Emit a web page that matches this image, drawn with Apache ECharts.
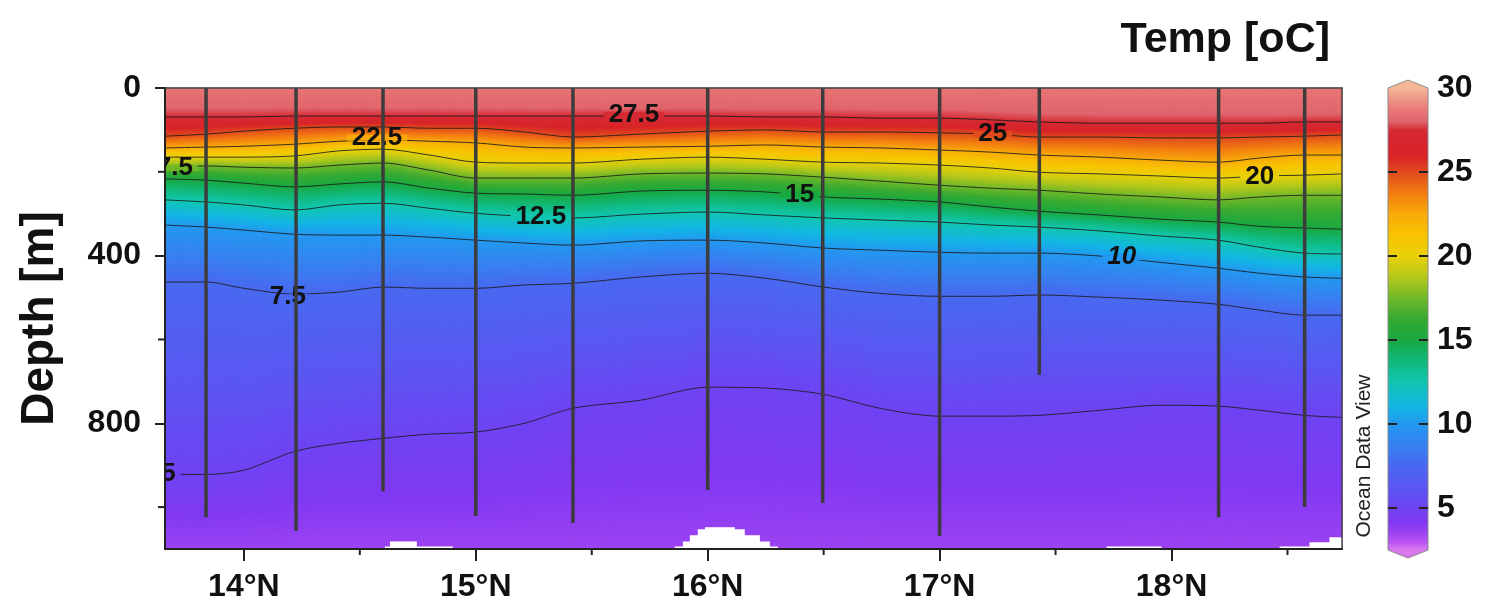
<!DOCTYPE html>
<html><head><meta charset="utf-8">
<script src="https://cdn.jsdelivr.net/npm/echarts@6/dist/echarts.min.js"></script>
<style>html,body{margin:0;padding:0;background:#fff}#c{width:1485px;height:610px}</style>
</head><body><div id="c"></div>
<script>
// ---------------- data ----------------
const latitudes = [13.66, 13.84, 14.0, 14.22, 14.41, 14.6, 14.8, 15.0, 15.21, 15.42, 15.71, 16.0, 16.25, 16.5, 16.74, 17.0, 17.22, 17.43, 17.69, 17.95, 18.2, 18.38, 18.57, 18.735];
const surfaceDepth = latitudes.map(() => 0);
const bottomDepth = latitudes.map(() => 1100);
const surfaceTemp = 28.6;
const bottomTemp = 3.5;
// isotherm depths [m] at each latitude
const iso28   = [48,48,48,48,48,48,48,48,48,48,48,48,50,50,50,50,55,60,62,62,62,62,62,62];
const iso27_5 = [69,69,69,67,67,67,67,67,67,67,67,67,69,69,72,72,76,81,84,84,84,84,81,81];
const iso25   = [115,110,103,96,93,93,96,96,105,117,110,103,100,105,105,107,110,117,117,119,119,117,115,112];
const iso22_5 = [143,141,139,134,127,124,127,131,141,143,141,139,136,141,143,148,153,160,165,172,177,167,160,160];
const iso20   = [165,165,165,162,150,146,160,177,179,179,170,165,170,177,179,184,191,201,205,210,215,210,208,205];
const iso17_5 = [189,186,189,191,184,179,196,215,215,215,205,203,205,213,222,232,239,244,253,260,267,260,256,256];
const iso15   = [217,220,227,236,229,224,239,251,253,256,246,244,248,260,265,272,284,294,303,313,320,330,334,337];
const iso12_5 = [267,272,279,291,279,275,287,299,306,310,301,296,303,310,315,320,327,332,341,353,363,380,394,396];
const iso10   = [327,332,339,349,351,351,356,363,370,375,365,363,370,382,387,392,394,394,401,416,430,442,451,454];
const iso7_5  = [463,463,478,492,487,475,478,478,470,466,451,442,454,475,490,497,497,494,499,506,516,530,542,542];
const iso5    = [922,922,912,867,848,836,826,821,800,764,745,714,716,731,764,783,783,781,769,757,759,769,781,786];

const contourLevels = [27.5, 25, 22.5, 20, 17.5, 15, 12.5, 10, 7.5, 5];
const contourDepths = [iso27_5, iso25, iso22_5, iso20, iso17_5, iso15, iso12_5, iso10, iso7_5, iso5];

// contour labels: [lat, depth, level, text, italic]
const contourLabels = [
  [15.682, 64, 27.5, '27.5', false],
  [17.229, 110, 25, '25', false],
  [14.574, 119, 22.5, '22.5', false],
  [18.38, 212, 20, '20', false],
  [13.671, 191, 17.5, '17.5', false],
  [16.397, 256, 15, '15', false],
  [15.281, 308, 12.5, '12.5', false],
  [17.785, 404, 10, '10', true],
  [14.19, 499, 7.5, '7.5', false],
  [13.675, 920, 5, '5', false]
];

// CTD stations: latitude and cast depth [m]
const stationLat   = [13.837, 14.225, 14.60, 15.0, 15.419, 16.0, 16.496, 17.0, 17.43, 18.203, 18.574];
const stationDepth = [1024, 1057, 962, 1021, 1038, 959, 990, 1069, 685, 1024, 1000];

// no-data gaps at the bottom: [lat0, lat1, top depth]
const bottomGaps = [
  [14.608, 14.901, 1094], [14.63, 14.746, 1082],
  [15.858, 16.302, 1094], [15.893, 16.268, 1082], [15.923, 16.225, 1067], [15.957, 16.16, 1053], [15.988, 16.117, 1048],
  [17.72, 17.957, 1094],
  [18.466, 18.735, 1094], [18.595, 18.735, 1084], [18.681, 18.735, 1072]
];

const xTickValues = [14, 15, 16, 17, 18];
const xMinorTicks = [14.5, 15.5, 16.5, 17.5, 18.5];
const yTickValues = [0, 400, 800];
const yMinorTicks = [200, 600, 1000];
const colorbarTicks = [5, 10, 15, 20, 25];
const colorbarLabels = [5, 10, 15, 20, 25, 30];

// colour scale (temperature -> colour)
const cmV = [2.5, 3.0, 3.5, 4.2, 5.0, 6.2, 7.5, 8.7, 10.0, 11.0, 12.5, 13.8, 15.0, 16.3, 17.5, 18.8, 20.0, 21.2, 22.5, 23.8, 25.0, 26.0, 27.5, 28.0, 28.6, 30.0];
const cmC = ['#DA78F0','#B852F2','#9C42F2','#8038F2','#6E42F2','#5A56F2','#4868F0','#3680F0','#2298F0','#12B4E6','#10C6B0','#10B878','#18A840','#38AA30','#70B828','#B8C818','#E8D008','#F8C400','#F8AA08','#F27A10','#E04A1C','#D82228','#D62A34','#E0646C','#E87474','#F5B896'];

// ---------------- helpers ----------------
const FONT = '"Liberation Sans", Arial, Helvetica, sans-serif';
function hexToRgb(h){h=h.replace('#','');return [parseInt(h.slice(0,2),16),parseInt(h.slice(2,4),16),parseInt(h.slice(4,6),16)];}
const cmRGB = cmC.map(hexToRgb);
function colorAt(t){
  const n = cmV.length;
  if (t <= cmV[0]) return cmC[0];
  if (t >= cmV[n-1]) return cmC[n-1];
  let i = 0; while (i < n-1 && !(t >= cmV[i] && t <= cmV[i+1])) i++;
  const f = (t - cmV[i]) / (cmV[i+1] - cmV[i]);
  const a = cmRGB[i], b = cmRGB[i+1];
  return 'rgb(' + a.map((v,k)=>Math.round(v + (b[k]-v)*f)).join(',') + ')';
}
function stopsBetween(T0, T1){
  const stops = [{offset:0, color:colorAt(T0)}];
  const lo = Math.min(T0,T1), hi = Math.max(T0,T1);
  cmV.forEach((v,i)=>{ if (v > lo && v < hi) stops.push({offset:(T0-v)/(T0-T1), color:cmC[i]}); });
  stops.push({offset:1, color:colorAt(T1)});
  stops.sort((a,b)=>a.offset-b.offset);
  return stops;
}
const measureCtx = document.createElement('canvas').getContext('2d');
function textWidth(txt, font){ measureCtx.font = font; return measureCtx.measureText(txt).width; }
function lerpPt(a, b, t){ return [a[0] + (b[0]-a[0])*t, a[1] + (b[1]-a[1])*t]; }

// layers for the filled field
const layerT = [surfaceTemp, 28, 27.5, 25, 22.5, 20, 17.5, 15, 12.5, 10, 7.5, 5, bottomTemp];
const layerD = [surfaceDepth, iso28, iso27_5, iso25, iso22_5, iso20, iso17_5, iso15, iso12_5, iso10, iso7_5, iso5, bottomDepth];
const bandCells = [];
for (let b = 0; b < layerT.length - 1; b++)
  for (let s = 0; s < latitudes.length - 1; s++) bandCells.push({b, s});

const XMIN = 13.66, XMAX = 18.735;
const STRIPS = 10; // drawing sub-strips per quad (geometry only) to smooth the gradient

// ---------------- chart ----------------
const chart = echarts.init(document.getElementById('c'));
const axisColor = '#222';

const option = {
  animation: false,
  backgroundColor: '#fff',
  textStyle: {fontFamily: FONT},
  grid: [
    {left: 165, top: 88, width: 1177, height: 461, outerBoundsMode: 'none', containLabel: false},
    {left: 1388, top: 88, width: 40, height: 504, outerBoundsMode: 'none', containLabel: false}
  ],
  xAxis: [
    {type:'value', gridIndex:0, min:XMIN, max:XMAX, position:'bottom', z:10,
     axisLine:{show:true, onZero:false, lineStyle:{color:axisColor, width:2}},
     axisTick:{show:true, customValues:xTickValues, length:12, lineStyle:{color:axisColor, width:2}},
     axisLabel:{customValues:xTickValues, formatter:(v)=>v+'°N', fontSize:32, fontWeight:'bold', color:'#111', margin:22, fontFamily:FONT},
     splitLine:{show:false}},
    {type:'value', gridIndex:0, min:XMIN, max:XMAX, position:'top', z:10,
     axisLine:{show:true, onZero:false, lineStyle:{color:'#444', width:1.5}},
     axisTick:{show:false}, axisLabel:{show:false}, splitLine:{show:false}},
    {type:'value', gridIndex:1, min:0, max:1, show:false}
  ],
  yAxis: [
    {type:'value', gridIndex:0, min:0, max:1100, inverse:true, position:'left', z:10,
     axisLine:{show:true, onZero:false, lineStyle:{color:axisColor, width:2}},
     axisTick:{show:true, customValues:yTickValues, length:10, lineStyle:{color:axisColor, width:2}},
     axisLabel:{customValues:yTickValues, formatter:(v)=>String(v), fontSize:32, fontWeight:'bold', color:'#111', margin:24, fontFamily:FONT},
     splitLine:{show:false},
     name:'Depth [m]', nameLocation:'middle', nameGap:102,
     nameTextStyle:{fontSize:46, fontWeight:'bold', color:'#111', fontFamily:FONT}},
    {type:'value', gridIndex:0, min:0, max:1100, inverse:true, position:'right', z:10,
     axisLine:{show:true, onZero:false, lineStyle:{color:'#444', width:1.5}},
     axisTick:{show:false}, axisLabel:{show:false}, splitLine:{show:false}},
    {type:'value', gridIndex:1, min:0, max:30, position:'right', z:10,
     axisLine:{show:false},
     axisTick:{show:false},
     axisLabel:{customValues:colorbarLabels, formatter:(v)=>String(v), fontSize:32, fontWeight:'bold', color:'#111', margin:9, fontFamily:FONT},
     splitLine:{show:false}}
  ],
  graphic: [
    {type:'text', right: 1485-1330, top: 19, z: 20,
     style:{text:'Temp [oC]', font:'bold 43px ' + FONT, fill:'#111'}},
    {type:'text', x:1364, y:456, rotation:Math.PI/2, z:20,
     style:{text:'Ocean Data View', font:'21px ' + FONT, fill:'#222', textAlign:'center', textVerticalAlign:'middle', align:'center', verticalAlign:'middle'}}
  ],
  series: []
};

// filled temperature field
option.series.push({
  type:'custom', name:'field', xAxisIndex:0, yAxisIndex:0, z:1, silent:true,
  data: bandCells.map(c => [latitudes[c.s], layerD[c.b][c.s]]),
  renderItem(params, api){
    const c = bandCells[params.dataIndex];
    const top = layerD[c.b], bot = layerD[c.b+1], s = c.s;
    const p1 = api.coord([latitudes[s], top[s]]);
    const p2 = api.coord([latitudes[s+1], top[s+1]]);
    const p3 = api.coord([latitudes[s+1], bot[s+1]]);
    const p4 = api.coord([latitudes[s], bot[s]]);
    const stops = stopsBetween(layerT[c.b], layerT[c.b+1]);
    const children = [];
    for (let j = 0; j < STRIPS; j++) {
      const t0 = j / STRIPS, t1 = (j + 1) / STRIPS;
      const a = lerpPt(p1, p2, t0), b = lerpPt(p1, p2, t1);
      const d = lerpPt(p4, p3, t0), e = lerpPt(p4, p3, t1);
      const yT = (a[1] + b[1]) / 2, yB = (d[1] + e[1]) / 2;
      const grad = {type:'linear', x:0, y:yT, x2:0, y2:yB, global:true, colorStops: stops};
      children.push({type:'polygon', shape:{points:[a, b, e, d]}, style:{fill:grad, stroke:grad, lineWidth:1}});
    }
    return {type:'group', children};
  }
});

// bottom gaps (white)
option.series.push({
  type:'custom', name:'gaps', xAxisIndex:0, yAxisIndex:0, z:2, silent:true,
  data: bottomGaps.map(g => [g[0], g[2]]),
  renderItem(params, api){
    const g = bottomGaps[params.dataIndex];
    const a = api.coord([g[0], g[2]]), b = api.coord([g[1], 1100]);
    return {type:'rect', shape:{x:a[0], y:a[1], width:b[0]-a[0], height:b[1]-a[1]}, style:{fill:'#fff'}};
  }
});

// contour lines
contourLevels.forEach((lev, k) => {
  option.series.push({
    type:'line', name:'iso'+lev, xAxisIndex:0, yAxisIndex:0, z:3, silent:true,
    data: latitudes.map((lat,i)=>[lat, contourDepths[k][i]]),
    showSymbol:false, symbol:'none', smooth:0.3,
    lineStyle:{color:'#1a1a1a', width:1, opacity:0.85}
  });
});

// contour labels
option.series.push({
  type:'custom', name:'labels', xAxisIndex:0, yAxisIndex:0, z:4, silent:true, clip:true,
  data: contourLabels.map(l => [l[0], l[1]]),
  renderItem(params, api){
    const l = contourLabels[params.dataIndex];
    const p = api.coord([l[0], l[1]]);
    const font = (l[4] ? 'italic ' : '') + 'bold 26px ' + FONT;
    const w = textWidth(l[3], font) + 10;
    return {type:'group', children:[
      {type:'rect', shape:{x:p[0]-w/2, y:p[1]-3, width:w, height:6}, style:{fill:colorAt(l[2])}},
      {type:'text', x:p[0], y:p[1], style:{text:l[3], font:font, fill:'#111',
        textAlign:'center', textVerticalAlign:'middle', align:'center', verticalAlign:'middle'}}
    ]};
  }
});

// station casts
option.series.push({
  type:'custom', name:'stations', xAxisIndex:0, yAxisIndex:0, z:5, silent:true,
  data: stationLat.map((lat,i)=>[lat, stationDepth[i]]),
  renderItem(params, api){
    const i = params.dataIndex;
    const a = api.coord([stationLat[i], 0]), b = api.coord([stationLat[i], stationDepth[i]]);
    return {type:'line', shape:{x1:a[0], y1:a[1], x2:b[0], y2:b[1]}, style:{stroke:'#3c3c3c', lineWidth:3.5}};
  }
});

// minor ticks on x and y axes
const minorTicks = xMinorTicks.map(v=>['x', v]).concat(yMinorTicks.map(v=>['y', v]));
option.series.push({
  type:'custom', name:'minorTicks', xAxisIndex:0, yAxisIndex:0, z:11, silent:true, clip:false,
  data: minorTicks.map(t => t[0]==='x' ? [t[1], 1100] : [XMIN, t[1]]),
  renderItem(params, api){
    const t = minorTicks[params.dataIndex];
    if (t[0] === 'x') {
      const p = api.coord([t[1], 1100]);
      return {type:'line', shape:{x1:p[0], y1:p[1], x2:p[0], y2:p[1]+6}, style:{stroke:axisColor, lineWidth:2}};
    }
    const p = api.coord([XMIN, t[1]]);
    return {type:'line', shape:{x1:p[0]-7, y1:p[1], x2:p[0], y2:p[1]}, style:{stroke:axisColor, lineWidth:2}};
  }
});

// colour bar with inner ticks
option.series.push({
  type:'custom', name:'colorbar', xAxisIndex:2, yAxisIndex:2, z:2, silent:true, clip:false,
  data:[[0, 30]],
  renderItem(params, api){
    const tl = api.coord([0, 30]), br = api.coord([1, 2.5]);
    const x0 = tl[0], x1 = br[0], xm = (x0+x1)/2, yT = tl[1], yB = br[1], cap = 8;
    const span = (yB + cap) - (yT - cap);
    const stops = [{offset:0, color:cmC[cmC.length-1]}];
    cmV.forEach((v,i)=>{ const y = api.coord([0, v])[1]; stops.push({offset:(y-(yT-cap))/span, color:cmC[i]}); });
    stops.push({offset:1, color:cmC[0]});
    stops.sort((a,b)=>a.offset-b.offset);
    const grad = {type:'linear', x:0, y:yT-cap, x2:0, y2:yB+cap, global:true, colorStops:stops};
    const children = [{type:'polygon', shape:{points:[[x0,yT],[xm,yT-cap],[x1,yT],[x1,yB],[xm,yB+cap],[x0,yB]]},
      style:{fill:grad, stroke:'#8a8a8a', lineWidth:1}}];
    colorbarTicks.forEach(v => {
      const y = api.coord([0, v])[1];
      children.push({type:'line', shape:{x1:x0, y1:y, x2:x0+9, y2:y}, style:{stroke:'#222', lineWidth:2}});
      children.push({type:'line', shape:{x1:x1-9, y1:y, x2:x1, y2:y}, style:{stroke:'#222', lineWidth:2}});
    });
    return {type:'group', children};
  }
});

chart.setOption(option);
</script>
</body></html>
